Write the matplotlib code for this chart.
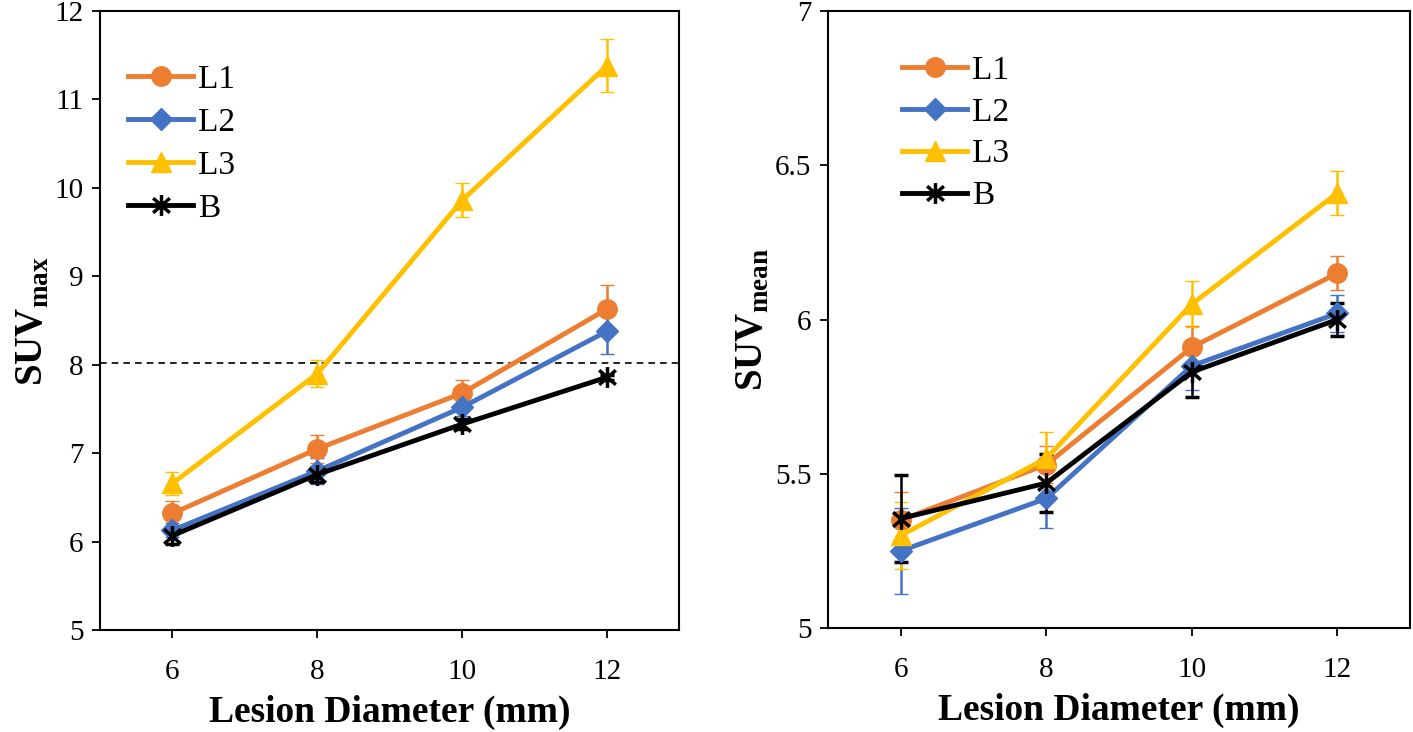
import matplotlib.pyplot as plt
from matplotlib.path import Path

plt.rcParams['font.family'] = ['Liberation Serif', 'DejaVu Serif']
plt.rcParams['mathtext.fontset'] = 'custom'
plt.rcParams['mathtext.rm'] = 'Liberation Serif'
plt.rcParams['mathtext.bf'] = 'Liberation Serif:bold'

diam = [6, 8, 10, 12]
labels = ['L1', 'L2', 'L3', 'B']
colors = ['#ED7D31', '#4472C4', '#FFC000', '#000000']

# SUVmax
max_l1 = [6.32, 7.05, 7.68, 8.63]
max_l2 = [6.13, 6.80, 7.52, 8.38]
max_l3 = [6.66, 7.90, 9.86, 11.38]
max_b = [6.07, 6.76, 7.33, 7.86]
max_l1_err = [0.14, 0.16, 0.15, 0.27]
max_l2_err = [0.08, 0.15, 0.10, 0.26]
max_l3_err = [0.13, 0.15, 0.19, 0.30]
max_b_err = [0.10, 0.08, 0.06, 0.03]

# SUVmean
mean_l1 = [5.35, 5.53, 5.91, 6.15]
mean_l2 = [5.25, 5.42, 5.85, 6.02]
mean_l3 = [5.30, 5.55, 6.05, 6.41]
mean_b = [5.355, 5.47, 5.83, 6.00]
mean_l1_err = [0.09, 0.06, 0.07, 0.055]
mean_l2_err = [0.14, 0.095, 0.08, 0.06]
mean_l3_err = [0.11, 0.085, 0.075, 0.07]
mean_b_err = [0.14, 0.095, 0.08, 0.055]

threshold = 8.02

# Excel-style star marker: X plus vertical bar
star = Path([(0, -1), (0, 1), (-0.8, -0.7), (0.8, 0.7), (-0.8, 0.7), (0.8, -0.7)],
            [Path.MOVETO, Path.LINETO, Path.MOVETO, Path.LINETO, Path.MOVETO, Path.LINETO])
markers = ['o', 'D', '^', star]
msizes = [14, 11, 14, 15]

fig = plt.figure(figsize=(14.13, 7.32), dpi=100)
ax1 = fig.add_axes([0.0708, 0.139, 0.410, 0.846])
ax2 = fig.add_axes([0.586, 0.142, 0.412, 0.843])


def draw(ax, series, errs):
    for vals, err, lab, c, m, ms in zip(series, errs, labels, colors, markers, msizes):
        ax.errorbar(diam, vals, yerr=err, color=c, ecolor=c, lw=3.5, elinewidth=1.8,
                    capsize=5, capthick=1.8, marker=m, markersize=ms,
                    markeredgewidth=2.5 if lab == 'B' else 1, label=lab)
    ax.set_xlim(5, 13)
    ax.set_xticks(diam)
    ax.tick_params(labelsize=21, direction='out', length=6, width=1.3, pad=6)
    ax.tick_params(axis='x', pad=15)
    for s in ax.spines.values():
        s.set_linewidth(1.5)
    ax.set_xlabel('Lesion Diameter (mm)', fontsize=27, fontweight='bold', labelpad=7)


draw(ax1, [max_l1, max_l2, max_l3, max_b], [max_l1_err, max_l2_err, max_l3_err, max_b_err])
ax1.axhline(threshold, color='black', ls='--', lw=1.2, dashes=(4, 3))
ax1.set_ylim(5, 12)
ax1.set_yticks(range(5, 13))
ax1.set_ylabel(r'$\mathbf{SUV}_{\mathbf{max}}$', fontsize=28, labelpad=2)
h, l = ax1.get_legend_handles_labels()
h = [x[0] for x in h]
ax1.legend(h, l, loc='upper left', bbox_to_anchor=(0.026, 0.935), frameon=False,
           fontsize=24, handlelength=1.95, labelspacing=0.37, handletextpad=0.15,
           borderaxespad=0)

draw(ax2, [mean_l1, mean_l2, mean_l3, mean_b], [mean_l1_err, mean_l2_err, mean_l3_err, mean_b_err])
ax2.set_ylim(5, 7)
ax2.set_yticks([5, 5.5, 6, 6.5, 7])
ax2.set_yticklabels(['5', '5.5', '6', '6.5', '7'])
ax2.set_ylabel(r'$\mathbf{SUV}_{\mathbf{mean}}$', fontsize=28, labelpad=2)
h, l = ax2.get_legend_handles_labels()
h = [x[0] for x in h]
ax2.legend(h, l, loc='upper left', bbox_to_anchor=(0.105, 0.95), frameon=False,
           fontsize=24, handlelength=1.95, labelspacing=0.34, handletextpad=0.15,
           borderaxespad=0)

fig.savefig('out.png', dpi=100)
